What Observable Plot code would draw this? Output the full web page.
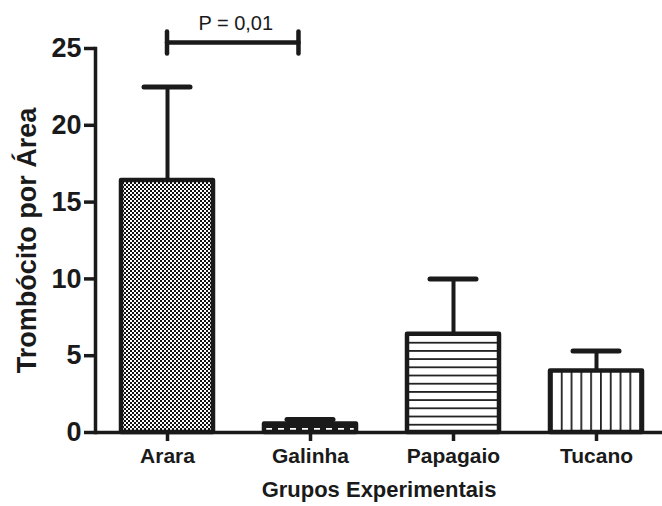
<!DOCTYPE html>
<html>
<head>
<meta charset="utf-8">
<script src="https://cdn.jsdelivr.net/npm/d3@7"></script>
<script src="https://cdn.jsdelivr.net/npm/@observablehq/plot@0.6"></script>
<style>
  html, body { margin: 0; padding: 0; background: #ffffff; }
  #chart { width: 662px; height: 506px; }
  svg { font-family: "Liberation Sans", Arial, sans-serif; }
</style>
</head>
<body>
<div id="chart"></div>
<script>
// ---- data ----
const categories = ["Arara", "Galinha", "Papagaio", "Tucano"];
const means = [16.4, 0.55, 6.4, 4.0];
const errors = [6.1, 0.3, 3.6, 1.3];
const yTicks = [0, 5, 10, 15, 20, 25];
const xTitle = "Grupos Experimentais";
const yTitle = "Trombócito por Área";
const comparison = ["Arara", "Galinha"];
const pLabel = "P = 0,01";
const bracketLevel = [25.35];
const pLabelLevel = [26.2];

const patternIds = { Arara: "pat-check", Galinha: "pat-dash", Papagaio: "pat-hline", Tucano: "pat-vline" };

const rows = categories.map((c, i) => ({ cat: c, mean: means[i], top: means[i] + errors[i], fill: `url(#${patternIds[c]})` }));

const ink = "#1a1a1a";

const plot = Plot.plot({
  width: 662,
  height: 506,
  marginLeft: 95,
  marginRight: 0,
  marginTop: 48,
  marginBottom: 74,
  style: { background: "#ffffff", color: ink, fontFamily: "Liberation Sans, Arial, sans-serif", overflow: "visible" },
  x: { domain: categories, range: [95, 668], paddingInner: 0.33, paddingOuter: 0.16 },
  y: { domain: [0, 25] },
  color: { type: "identity" },
  marks: [
    Plot.axisY({ ticks: yTicks, label: null, tickSize: 11, tickPadding: 3, fontSize: 27, fontWeight: "bold", stroke: ink, strokeWidth: 3.5, fill: ink }),
    Plot.frame({ anchor: "left", stroke: ink, strokeWidth: 3.5 }),
    Plot.axisX({ label: null, tickSize: 9, tickPadding: 7, fontSize: 21, fontWeight: "bold", stroke: ink, strokeWidth: 3.5, fill: ink }),
    Plot.ruleX(rows, { x: "cat", y1: "mean", y2: "top", stroke: ink, strokeWidth: 4 }),
    Plot.tickY(rows, { x: "cat", y: "top", stroke: ink, strokeWidth: 5, strokeLinecap: "round", insetLeft: 25, insetRight: 25 }),
    Plot.barY(rows, { x: "cat", y: "mean", fill: "fill", stroke: ink, strokeWidth: 4.5, strokeLinejoin: "round", insetLeft: 2, insetRight: 2 }),
    Plot.ruleY([0], { stroke: ink, strokeWidth: 3.5 }),
    Plot.text([xTitle], { frameAnchor: "bottom", dy: 64, fontSize: 22, fontWeight: "bold", fill: ink }),
    Plot.text([yTitle], { frameAnchor: "left", textAnchor: "middle", rotate: -90, dx: -68, fontSize: 27, fontWeight: "bold", fill: ink })
  ]
});

const svg = d3.select(plot);

// patterns
const defs = svg.insert("defs", ":first-child");
const pc = defs.append("pattern").attr("id", "pat-check").attr("patternUnits", "userSpaceOnUse").attr("width", 4).attr("height", 4);
pc.append("rect").attr("width", 4).attr("height", 4).attr("fill", "#fff");
pc.append("rect").attr("x", 0).attr("y", 0).attr("width", 2).attr("height", 2).attr("fill", "#111");
pc.append("rect").attr("x", 2).attr("y", 2).attr("width", 2).attr("height", 2).attr("fill", "#111");

const pd = defs.append("pattern").attr("id", "pat-dash").attr("patternUnits", "userSpaceOnUse").attr("width", 12).attr("height", 6);
pd.append("rect").attr("width", 12).attr("height", 6).attr("fill", ink);
pd.append("rect").attr("x", 2).attr("y", 2).attr("width", 6).attr("height", 2).attr("fill", "#fff");

const ph = defs.append("pattern").attr("id", "pat-hline").attr("patternUnits", "userSpaceOnUse").attr("width", 8).attr("height", 8.2).attr("y", 432);
ph.append("rect").attr("width", 8).attr("height", 8.2).attr("fill", "#fff");
ph.append("rect").attr("x", 0).attr("y", 0).attr("width", 8).attr("height", 1.8).attr("fill", "#222");

const pv = defs.append("pattern").attr("id", "pat-vline").attr("patternUnits", "userSpaceOnUse").attr("width", 9.8).attr("height", 8).attr("x", 551);
pv.append("rect").attr("width", 9.8).attr("height", 8).attr("fill", "#fff");
pv.append("rect").attr("x", 0).attr("y", 0).attr("width", 1.8).attr("height", 8).attr("fill", "#222");

// significance bracket
const xs = plot.scale("x"), ys = plot.scale("y");
const bw = xs.bandwidth;
const xa = xs.apply(comparison[0]) + bw / 2;
const xb = xs.apply(comparison[1]) + bw * 0.38;
const yb = ys.apply(bracketLevel[0]);
const gb = svg.append("g").attr("stroke", ink).attr("stroke-width", 4.5).attr("stroke-linecap", "round");
gb.append("line").attr("x1", xa).attr("x2", xb).attr("y1", yb).attr("y2", yb);
gb.append("line").attr("x1", xa).attr("x2", xa).attr("y1", yb - 11).attr("y2", yb + 11);
gb.append("line").attr("x1", xb).attr("x2", xb).attr("y1", yb - 11).attr("y2", yb + 11);
svg.append("text").attr("x", (xa + xb) / 2 + 3).attr("y", ys.apply(pLabelLevel[0])).attr("text-anchor", "middle")
  .attr("font-size", 20).attr("fill", ink).text(pLabel);

document.getElementById("chart").appendChild(plot);
</script>
</body>
</html>
